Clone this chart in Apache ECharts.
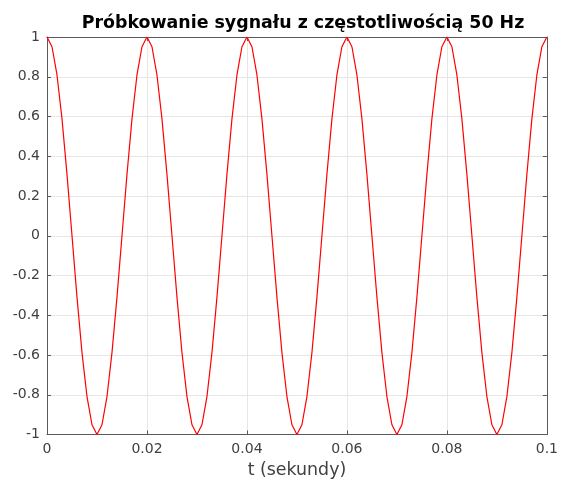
<!DOCTYPE html>
<html><head><meta charset="utf-8">
<script src="https://cdn.jsdelivr.net/npm/echarts@6/dist/echarts.min.js"></script>
<style>html,body{margin:0;padding:0;background:#fff}#c{width:561px;height:484px}</style>
</head><body><div id="c"></div>
<script>
var titleText = 'Próbkowanie sygnału z częstotliwością 50 Hz';
var xName = 't (sekundy)';
var xTicks = ['0','0.02','0.04','0.06','0.08','0.1'];
var yTicks = ['-1','-0.8','-0.6','-0.4','-0.2','0','0.2','0.4','0.6','0.8','1'];
var tValues = [
0,0.001,0.002,0.003,0.004,0.005,0.006,0.007,0.008,0.009,
0.010,0.011,0.012,0.013,0.014,0.015,0.016,0.017,0.018,0.019,
0.020,0.021,0.022,0.023,0.024,0.025,0.026,0.027,0.028,0.029,
0.030,0.031,0.032,0.033,0.034,0.035,0.036,0.037,0.038,0.039,
0.040,0.041,0.042,0.043,0.044,0.045,0.046,0.047,0.048,0.049,
0.050,0.051,0.052,0.053,0.054,0.055,0.056,0.057,0.058,0.059,
0.060,0.061,0.062,0.063,0.064,0.065,0.066,0.067,0.068,0.069,
0.070,0.071,0.072,0.073,0.074,0.075,0.076,0.077,0.078,0.079,
0.080,0.081,0.082,0.083,0.084,0.085,0.086,0.087,0.088,0.089,
0.090,0.091,0.092,0.093,0.094,0.095,0.096,0.097,0.098,0.099,
0.100];
var signalValues = [
1,0.951,0.809,0.588,0.309,0,-0.309,-0.588,-0.809,-0.951,
-1,-0.951,-0.809,-0.588,-0.309,0,0.309,0.588,0.809,0.951,
1,0.951,0.809,0.588,0.309,0,-0.309,-0.588,-0.809,-0.951,
-1,-0.951,-0.809,-0.588,-0.309,0,0.309,0.588,0.809,0.951,
1,0.951,0.809,0.588,0.309,0,-0.309,-0.588,-0.809,-0.951,
-1,-0.951,-0.809,-0.588,-0.309,0,0.309,0.588,0.809,0.951,
1,0.951,0.809,0.588,0.309,0,-0.309,-0.588,-0.809,-0.951,
-1,-0.951,-0.809,-0.588,-0.309,0,0.309,0.588,0.809,0.951,
1,0.951,0.809,0.588,0.309,0,-0.309,-0.588,-0.809,-0.951,
-1,-0.951,-0.809,-0.588,-0.309,0,0.309,0.588,0.809,0.951,
1];

var data = tValues.map(function(t,i){return [t, signalValues[i]];});
var font = 'DejaVu Sans';
var axisCol = '#5a5a5a';
var labCol = '#404040';
function xLab(v){ var i = Math.round(v/0.02); return xTicks[i]; }
function yLab(v){ var i = Math.round((v+1)/0.2); return yTicks[i]; }
var chart = echarts.init(document.getElementById('c'));
chart.setOption({
  animation:false,
  backgroundColor:'#fff',
  title:{text:titleText,left:298,top:10,textAlign:'center',
    textStyle:{fontFamily:font,fontSize:17.4,fontWeight:'bold',color:'#000'}},
  grid:{left:47,right:13,top:37,bottom:49},
  xAxis:[{type:'value',min:0,max:0.1,interval:0.02,position:'bottom',
    name:xName,nameLocation:'middle',nameGap:36,
    nameTextStyle:{fontFamily:font,fontSize:17.4,color:labCol,verticalAlign:'middle'},
    axisLine:{show:true,onZero:false,lineStyle:{color:axisCol,width:1}},
    axisTick:{show:true,inside:true,length:4,lineStyle:{color:axisCol}},
    axisLabel:{fontFamily:font,fontSize:14,color:labCol,margin:8,formatter:xLab},
    splitLine:{show:true,lineStyle:{color:'#e6e6e6',width:1}}},
   {type:'value',min:0,max:0.1,interval:0.02,position:'top',
    axisLine:{show:true,onZero:false,lineStyle:{color:axisCol,width:1}},
    axisTick:{show:true,inside:true,length:4,lineStyle:{color:axisCol}},
    axisLabel:{show:false},splitLine:{show:false}}],
  yAxis:[{type:'value',min:-1,max:1,interval:0.2,position:'left',
    axisLine:{show:true,onZero:false,lineStyle:{color:axisCol,width:1}},
    axisTick:{show:true,inside:true,length:4,lineStyle:{color:axisCol}},
    axisLabel:{fontFamily:font,fontSize:14,color:labCol,margin:7,formatter:yLab},
    splitLine:{show:true,lineStyle:{color:'#e6e6e6',width:1}}},
   {type:'value',min:-1,max:1,interval:0.2,position:'right',
    axisLine:{show:true,onZero:false,lineStyle:{color:axisCol,width:1}},
    axisTick:{show:true,inside:true,length:4,lineStyle:{color:axisCol}},
    axisLabel:{show:false},splitLine:{show:false}}],
  series:[{type:'line',data:data,xAxisIndex:0,yAxisIndex:0,
    showSymbol:false,symbol:'none',
    lineStyle:{color:'#ff0000',width:1.2},clip:true}]
});
</script></body></html>
